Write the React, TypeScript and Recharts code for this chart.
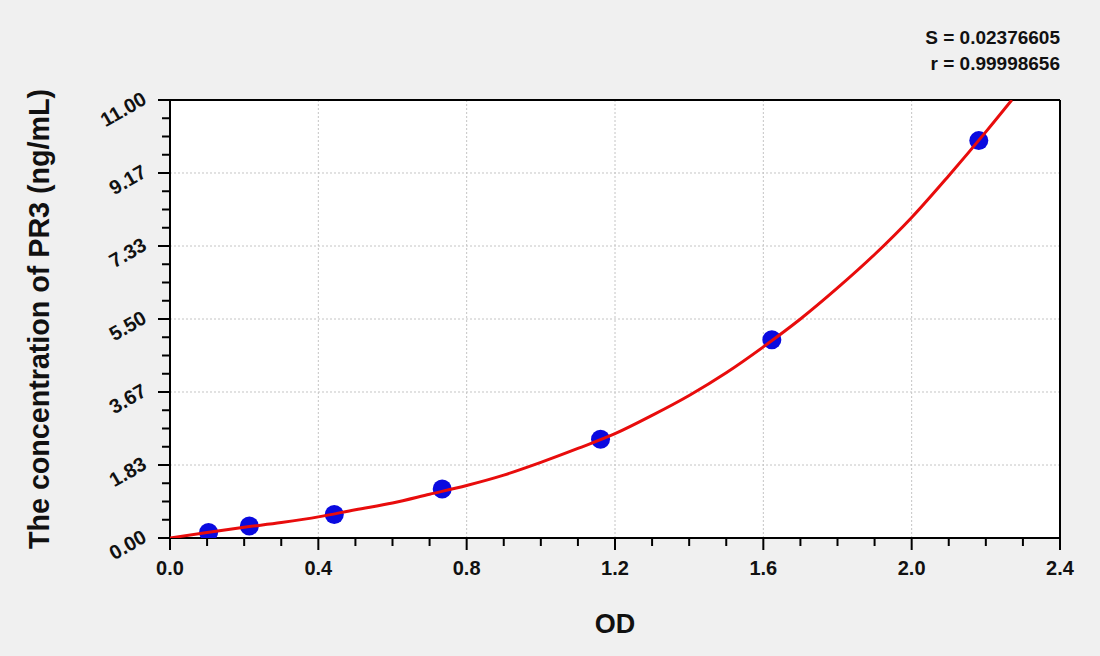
import React from 'react';
import {
    ComposedChart,
    Line,
    Scatter,
    XAxis,
    YAxis,
    CartesianGrid,
    ReferenceLine,
} from 'recharts';

// standard points
const standardOD = [0.104, 0.214, 0.443, 0.734, 1.161, 1.623, 2.181];
const standardConc = [0.14, 0.3, 0.59, 1.23, 2.48, 4.98, 9.98];

// fitted curve, sampled by eye along the red line
const fitOD = [0, 0.1, 0.2, 0.3, 0.4, 0.5, 0.6, 0.7, 0.8, 0.9, 1.0, 1.1, 1.2, 1.3, 1.4, 1.5, 1.6, 1.7, 1.8, 1.9, 2.0, 2.1, 2.2, 2.27];
const fitConc = [0, 0.14, 0.27, 0.39, 0.53, 0.71, 0.88, 1.1, 1.32, 1.58, 1.9, 2.25, 2.62, 3.08, 3.58, 4.15, 4.8, 5.5, 6.28, 7.12, 8.05, 9.1, 10.2, 11.0];

const xTickValues = [0, 0.1, 0.2, 0.3, 0.4, 0.5, 0.6, 0.7, 0.8, 0.9, 1.0, 1.1, 1.2, 1.3, 1.4, 1.5, 1.6, 1.7, 1.8, 1.9, 2.0, 2.1, 2.2, 2.3, 2.4];
const xTickLabels = ['0.0', '0.4', '0.8', '1.2', '1.6', '2.0', '2.4'];
const xGridValues = [0.4, 0.8, 1.2, 1.6, 2.0];

const yTickValues = [
    0, 0.4583, 0.9167, 1.375, 1.8333, 2.2917, 2.75, 3.2083, 3.6667, 4.125, 4.5833, 5.0417, 5.5,
    5.9583, 6.4167, 6.875, 7.3333, 7.7917, 8.25, 8.7083, 9.1667, 9.625, 10.0833, 10.5417, 11,
];
const yTickLabels = ['0.00', '1.83', '3.67', '5.50', '7.33', '9.17', '11.00'];
const yGridValues = [1.8333, 3.6667, 5.5, 7.3333, 9.1667];

const statLines = ['S = 0.02376605', 'r = 0.99998656'];

const FONT = '"Liberation Sans", Arial, sans-serif';
const RED = '#e80c0c';
const BLUE = '#0a0ae0';

const curveData = fitOD.map((x, i) => ({ x, y: fitConc[i] }));
const pointData = standardOD.map((x, i) => ({ x, y: standardConc[i] }));

const XTick = ({ x, y, index }: any) => {
    const major = index % 4 === 0;
    return (
        <g>
            <line x1={x} y1={y} x2={x} y2={y + (major ? 12 : 8)} stroke="#000" strokeWidth={2} />
            {major && (
                <text x={x} y={y + 37} textAnchor="middle" fontFamily={FONT} fontWeight="bold" fontSize={20} fill="#111">
                    {xTickLabels[index / 4]}
                </text>
            )}
        </g>
    );
};

const YTick = ({ x, y, index }: any) => {
    const major = index % 4 === 0;
    const ex = x - 22;
    const ey = y + 3;
    return (
        <g>
            <line x1={x} y1={y} x2={x - (major ? 12 : 8)} y2={y} stroke="#000" strokeWidth={2} />
            {major && (
                <text
                    x={ex}
                    y={ey}
                    textAnchor="end"
                    transform={`rotate(-30 ${ex} ${ey})`}
                    fontFamily={FONT}
                    fontWeight="bold"
                    fontSize={20}
                    fill="#111"
                >
                    {yTickLabels[index / 4]}
                </text>
            )}
        </g>
    );
};

const Dot = ({ cx, cy }: any) => <circle cx={cx} cy={cy} r={9.5} fill={BLUE} />;

export default function App() {
    return (
        <div style={{ position: 'absolute', left: 0, top: 0, width: 1100, height: 656, background: '#f0f0f0' }}>
            <ComposedChart width={1100} height={656} margin={{ top: 100, right: 40, bottom: 58, left: 110 }}>
                <CartesianGrid
                    fill="#fff"
                    stroke="#c4c4c4"
                    strokeDasharray="2 2"
                    verticalValues={xGridValues}
                    horizontalValues={yGridValues}
                />
                <XAxis
                    dataKey="x"
                    type="number"
                    domain={[0, 2.4]}
                    ticks={xTickValues}
                    interval={0}
                    height={60}
                    tickSize={0}
                    tickMargin={0}
                    tickLine={false}
                    axisLine={{ stroke: '#000', strokeWidth: 2 }}
                    tick={(p: any) => <XTick {...p} />}
                    allowDataOverflow
                />
                <YAxis
                    dataKey="y"
                    type="number"
                    domain={[0, 11]}
                    ticks={yTickValues}
                    interval={0}
                    width={60}
                    tickSize={0}
                    tickMargin={0}
                    tickLine={false}
                    axisLine={{ stroke: '#000', strokeWidth: 2 }}
                    tick={(p: any) => <YTick {...p} />}
                    allowDataOverflow
                />
                <ReferenceLine y={11} stroke="#000" strokeWidth={2} />
                <ReferenceLine x={2.4} stroke="#000" strokeWidth={2} />
                <Scatter data={pointData} dataKey="y" shape={<Dot />} isAnimationActive={false} />
                <Line
                    data={curveData}
                    dataKey="y"
                    type="monotone"
                    stroke={RED}
                    strokeWidth={3}
                    dot={false}
                    activeDot={false}
                    isAnimationActive={false}
                    zIndex={700}
                />
            </ComposedChart>
            <svg width={1100} height={656} style={{ position: 'absolute', left: 0, top: 0, pointerEvents: 'none' }}>
                {statLines.map((s, i) => (
                    <text key={s} x={1060} y={44 + i * 26} textAnchor="end" fontFamily={FONT} fontWeight="bold" fontSize={19} fill="#111">
                        {s}
                    </text>
                ))}
                <text x={615} y={633} textAnchor="middle" fontFamily={FONT} fontWeight="bold" fontSize={27} fill="#111">
                    OD
                </text>
                <text
                    x={49}
                    y={319}
                    textAnchor="middle"
                    transform="rotate(-90 49 319)"
                    fontFamily={FONT}
                    fontWeight="bold"
                    fontSize={29}
                    textLength={460}
                    lengthAdjust="spacingAndGlyphs"
                    fill="#111"
                >
                    The concentration of PR3 (ng/mL)
                </text>
            </svg>
        </div>
    );
}
